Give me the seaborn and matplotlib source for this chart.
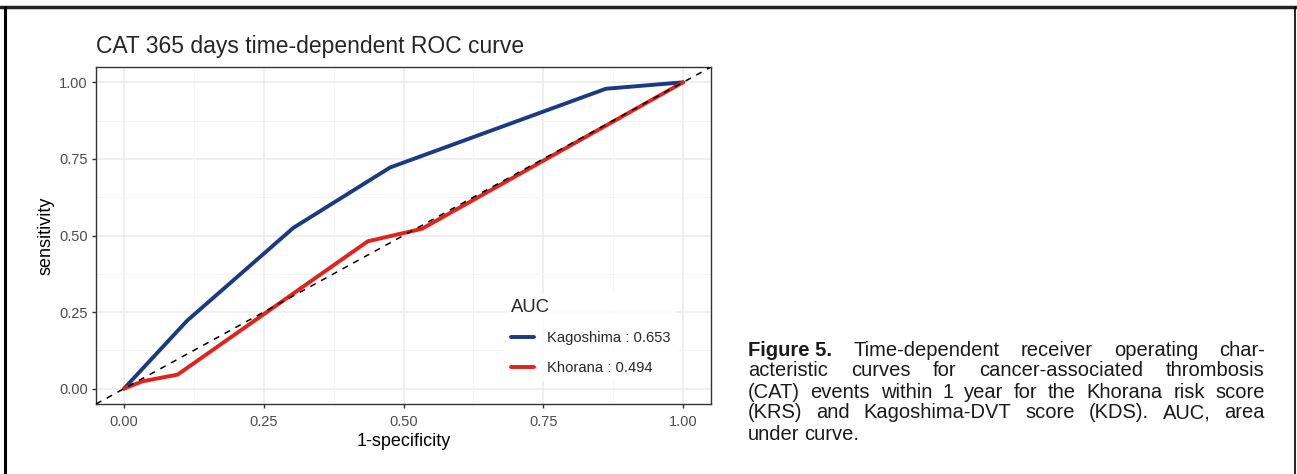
import pandas as pd
import seaborn as sns
import matplotlib.pyplot as plt
from matplotlib.lines import Line2D

# ROC points
kag_fpr = [0.0, 0.113, 0.303, 0.476, 0.862, 1.0]
kag_tpr = [0.0, 0.222, 0.525, 0.722, 0.979, 1.0]
kho_fpr = [0.0, 0.033, 0.096, 0.436, 0.533, 1.0]
kho_tpr = [0.0, 0.024, 0.046, 0.481, 0.522, 1.0]
labels = ["Kagoshima : 0.653", "Khorana : 0.494"]
ticks = [0.0, 0.25, 0.5, 0.75, 1.0]
tick_labels = ["0.00", "0.25", "0.50", "0.75", "1.00"]

caption = [
    [("Figure 5.", "bold"), ("Time-dependent", "normal"), ("receiver", "normal"),
     ("operating", "normal"), ("char-", "normal")],
    "acteristic curves for cancer-associated thrombosis",
    "(CAT) events within 1 year for the Khorana risk score",
    "(KRS) and Kagoshima-DVT score (KDS). AUC, area",
    "under curve.",
]

df = pd.concat([
    pd.DataFrame({"fpr": kag_fpr, "tpr": kag_tpr, "model": labels[0]}),
    pd.DataFrame({"fpr": kho_fpr, "tpr": kho_tpr, "model": labels[1]}),
])

sns.set_style("white")
plt.rcParams["font.family"] = ["Liberation Sans", "DejaVu Sans"]

W, H = 1297, 474
fig = plt.figure(figsize=(W / 100, H / 100), dpi=100)
ax = fig.add_axes([96 / W, 1 - 404 / H, (711 - 96) / W, (404 - 67) / H])

# grid like ggplot theme_bw
minor = [-0.125 + 0.25 * i for i in range(1, 5)]
for v in ticks:
    ax.axvline(v, color="#ebebeb", lw=1.1, zorder=0)
    ax.axhline(v, color="#ebebeb", lw=1.1, zorder=0)
for v in minor:
    ax.axvline(v, color="#f4f4f4", lw=0.6, zorder=0)
    ax.axhline(v, color="#f4f4f4", lw=0.6, zorder=0)

ax.plot([-0.05, 1.05], [-0.05, 1.05], ls=(0, (4, 4)), color="black", lw=1.1, zorder=3)

sns.lineplot(data=df, x="fpr", y="tpr", hue="model", sort=False, estimator=None,
             palette=["#1a3a82", "#e3221c"], lw=2.8, ax=ax, zorder=2)

ax.set_xlim(-0.05, 1.05)
ax.set_ylim(-0.05, 1.05)
ax.set_xticks(ticks, tick_labels)
ax.set_yticks(ticks, tick_labels)
ax.tick_params(axis="both", length=3, width=1, color="#333333", labelsize=10.5,
               labelcolor="#4d4d4d", bottom=True, left=True)
ax.tick_params(axis="x", pad=5)
ax.tick_params(axis="y", pad=3)
for s in ax.spines.values():
    s.set_color("#333333")
    s.set_linewidth(1.0)
ax.set_xlabel("1-specificity", fontsize=13, color="black", labelpad=3)
ax.set_ylabel("sensitivity", fontsize=13, color="black", labelpad=3)
fig.text(96 / W, 1 - 47 / H, "CAT 365 days time-dependent ROC curve", fontsize=16.5,
         va="center", ha="left")

leg = ax.legend(title="AUC", loc="upper left", bbox_to_anchor=(0.653, 0.352),
                frameon=True, fontsize=10.6, title_fontsize=13.3, handlelength=1.56,
                handletextpad=0.88, labelspacing=1.07, alignment="left")
leg.get_frame().set_edgecolor("none")
leg.get_frame().set_facecolor("white")
for h in leg.get_lines():
    h.set_linewidth(2.8)

# caption, justified by hand
renderer = fig.canvas.get_renderer()
x0, x1 = 748, 1265
cap_size = 14.5
y = 350
for i, line in enumerate(caption):
    words = line if isinstance(line, list) else [(w, "normal") for w in line.split(" ")]
    objs = [fig.text(0, 0, w, fontsize=cap_size, fontweight=wt, va="center", ha="left",
                     color="#1a1a1a") for w, wt in words]
    widths = [o.get_window_extent(renderer).width for o in objs]
    if i == len(caption) - 1:
        gap = 4.5
    else:
        gap = (x1 - x0 - sum(widths)) / (len(words) - 1)
    x = x0
    for j, (o, w) in enumerate(zip(objs, widths)):
        o.set_position((x / W, 1 - y / H))
        x += w + gap
    y += 21

# journal frame
fig.add_artist(Line2D([0, 1], [1 - 7 / H, 1 - 7 / H], color="#222222", lw=2.5))
fig.add_artist(Line2D([5 / W, 5 / W], [0, 1 - 7 / H], color="black", lw=2.2))
fig.add_artist(Line2D([1294.5 / W, 1294.5 / W], [0, 1 - 7 / H], color="black", lw=1.2))

fig.savefig("out.png", dpi=100)
